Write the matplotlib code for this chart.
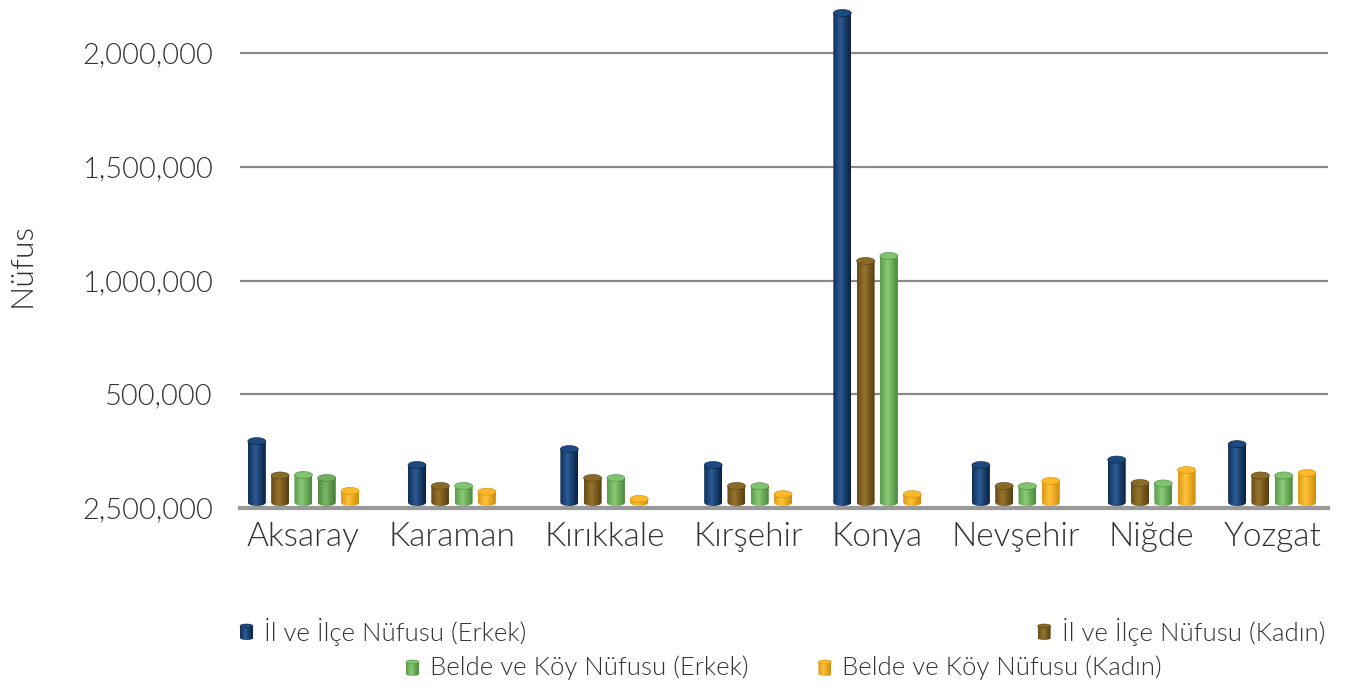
import numpy as np
import matplotlib
matplotlib.use("Agg")
import matplotlib.pyplot as plt
import matplotlib.transforms as mtransforms
from matplotlib.path import Path
from matplotlib.patches import PathPatch, Ellipse
from matplotlib.colors import to_rgb

plt.rcParams['font.family'] = ['Lato', 'DejaVu Sans']
FW = 300
TXT = "#333333"

# data
iller = ["Aksaray", "Karaman", "Kırıkkale", "Kırşehir", "Konya", "Nevşehir", "Niğde", "Yozgat"]
il_ilce_erkek = [294000, 189000, 259000, 189000, 2176000, 189000, 213000, 281000]
il_ilce_kadin = [143000, 97000, 132000, 97000, 1086000, 97000, 110000, 143000]
belde_koy_erkek = [145000, 97000, 132000, 96000, 1108000, 96000, 108000, 143000]
belde_koy_ek = [132000, None, None, None, None, None, None, None]  # extra green bar only in Aksaray
belde_koy_kadin = [75000, 72000, 40000, 61000, 61000, 119000, 167000, 154000]

seri_adlari = ["İl ve İlçe Nüfusu (Erkek)", "İl ve İlçe Nüfusu (Kadın)",
               "Belde ve Köy Nüfusu (Erkek)", "Belde ve Köy Nüfusu (Kadın)"]

y_ticks = [0, 500000, 1000000, 1500000, 2000000]
y_tick_labels = ["2,500,000", "500,000", "1,000,000", "1,500,000", "2,000,000"]

# (dark edge, light centre, top cap)
renkler = {
    "mavi": ("#0a2240", "#2b5b96", "#1d4a7e"),
    "kahve": ("#5a4012", "#96752d", "#8a6a28"),
    "yesil": ("#4c8a3a", "#8ccc78", "#80c470"),
    "yesil2": ("#437a33", "#7ab866", "#6fae5e"),
    "sari": ("#d08c0a", "#ffc43c", "#fdb829"),
}

seriler = [(il_ilce_erkek, "mavi"), (il_ilce_kadin, "kahve"), (belde_koy_erkek, "yesil"),
           (belde_koy_ek, "yesil2"), (belde_koy_kadin, "sari")]
legend_renk = ["mavi", "kahve", "yesil", "sari"]

W, H = 1353, 688
fig = plt.figure(figsize=(W / 100, H / 100), dpi=100)
ax_l, ax_r, ax_b, ymax = 240, 1328, 508, 2200000
ax_h = ax_b - 7.5
ax = fig.add_axes([ax_l / W, (H - ax_b) / H, (ax_r - ax_l) / W, ax_h / H])
ax_w = ax_r - ax_l
renderer = fig.canvas.get_renderer()


def text_width(s, size):
    t = fig.text(0, 0, s, fontsize=size, fontweight=FW)
    w = t.get_window_extent(renderer).width
    t.remove()
    return w


def cylinder(a, xc, w, top, cap_h, key, base=0.0, z=3):
    dark, light, cap = renkler[key]
    x0, x1 = xc - w / 2, xc + w / 2
    y0 = base + cap_h / 2
    th = np.linspace(np.pi, 2 * np.pi, 30)
    ex = xc + w / 2 * np.cos(th)
    ey = y0 + cap_h / 2 * np.sin(th)
    verts = [(x0, top)] + list(zip(ex, ey)) + [(x1, top), (x0, top)]
    clip = PathPatch(Path(verts, closed=True), transform=a.transData)
    t = np.linspace(0, 1, 64)
    f = np.clip(1 - np.abs(t - 0.42) / 0.58, 0, 1) ** 1.1
    d, l = np.array(to_rgb(dark)), np.array(to_rgb(light))
    grad = (d[None, :] + (l - d)[None, :] * f[:, None])[None, :, :]
    im = a.imshow(grad, extent=[x0, x1, base, top], aspect="auto",
                  interpolation="bilinear", zorder=z)
    im.set_clip_path(clip)
    a.add_patch(Ellipse((xc, top), w, cap_h, facecolor=cap,
                        edgecolor=dark, lw=0.4, zorder=z + 0.1))


# category labels laid out side by side, bars centred under them
blend = mtransforms.blended_transform_factory(ax.transData, ax.transAxes)
genis = [text_width(s, 24) for s in iller]
pad = 7
gap = (ax_w - 2 * pad - sum(genis)) / (len(genis) - 1)
merkez = []
x = pad
for s, g in zip(iller, genis):
    merkez.append(x + g / 2)
    ax.text(x + g / 2, -0.028, s, transform=blend, ha="center", va="top",
            fontsize=24, color=TXT, fontweight=FW)
    x += g + gap

bar_w, pitch = 18, 23.3
cap_h = 7 * ymax / ax_h
base = 2 * ymax / ax_h  # bars rest just above the axis line
for i, xc in enumerate(merkez):
    grup = [(s[i], k) for s, k in seriler if s[i] is not None]
    n = len(grup)
    for j, (v, k) in enumerate(grup):
        cylinder(ax, xc + (j - (n - 1) / 2) * pitch, bar_w, v, cap_h, k, base=base)

ax.set_xlim(0, ax_w)
ax.set_ylim(0, ymax)
ax.set_xticks([])
ax.set_yticks(y_ticks, y_tick_labels)
ax.tick_params(axis="y", length=0, pad=19.5, labelsize=21, labelcolor=TXT)
for lab in ax.get_yticklabels():
    lab.set_fontweight(FW)
ax.yaxis.grid(True, color="#8a8a8a", lw=1.6, zorder=1)
ax.set_axisbelow(True)
for s in ["top", "left", "right"]:
    ax.spines[s].set_visible(False)
ax.spines["bottom"].set_color("#9a9a9a")
ax.spines["bottom"].set_linewidth(3)
ax.spines["bottom"].set_zorder(2)

fig.text(22 / W, (H - 265) / H, "Nüfus", rotation=90, ha="center", va="center",
         fontsize=23, color=TXT, fontweight=FW)

# legend drawn in pixel coordinates
lax = fig.add_axes([0, 0, 1, 1])
lax.set_xlim(0, W)
lax.set_ylim(0, H)
lax.axis("off")
icon_w, icon_h, icon_gap = 13, 16, 11
LFS = 18.5


def legend_item(x, yc, i):
    cylinder(lax, x + icon_w / 2, icon_w, yc + icon_h / 2 - 2, 4, legend_renk[i],
             base=yc - icon_h / 2, z=3)
    lax.text(x + icon_w + icon_gap, yc, seri_adlari[i], ha="left", va="center",
             fontsize=LFS, color=TXT, fontweight=FW)


iw = [icon_w + icon_gap + text_width(s, LFS) for s in seri_adlari]

# row 1: spread across plot width
legend_item(ax_l, H - 632, 0)
legend_item(ax_r - 3 - iw[1], H - 632, 1)
# row 2: centred
gap2 = 70
tot = iw[2] + gap2 + iw[3]
x2 = (ax_l + ax_r) / 2 - tot / 2
legend_item(x2, H - 668, 2)
legend_item(x2 + iw[2] + gap2, H - 668, 3)
lax.set_xlim(0, W)
lax.set_ylim(0, H)

fig.savefig("out.png", dpi=100)
